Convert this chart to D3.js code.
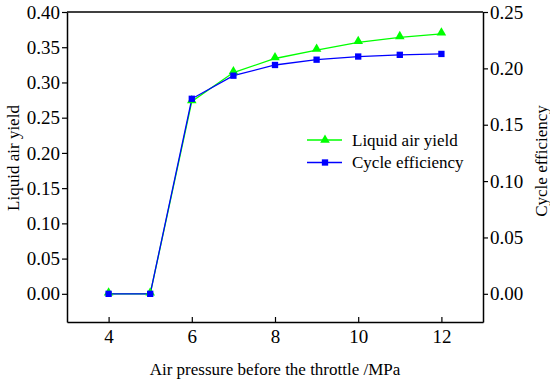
<!DOCTYPE html>
<html>
<head>
<meta charset="utf-8">
<script src="https://cdn.jsdelivr.net/npm/d3@7"></script>
<style>
  body { margin: 0; background: #fff; }
  svg text { font-family: "Liberation Serif", "Times New Roman", serif; fill: #000; }
</style>
</head>
<body>
<div id="chart"></div>
<script>
var pressure = [4, 5, 6, 7, 8, 9, 10, 11, 12];
var liquidYield = [0, 0, 0.273, 0.314, 0.334, 0.346, 0.357, 0.364, 0.369];
var cycleEff = [0, 0, 0.173, 0.1935, 0.203, 0.2077, 0.2105, 0.212, 0.2128];
var xTicks = [4, 6, 8, 10, 12];
var leftTicks = [0, 0.05, 0.10, 0.15, 0.20, 0.25, 0.30, 0.35, 0.40];
var rightTicks = [0, 0.05, 0.10, 0.15, 0.20, 0.25];

var margin = {top: 12, right: 67, bottom: 59, left: 67},
    width = 550 - margin.left - margin.right,
    height = 381 - margin.top - margin.bottom;

var svg = d3.select("#chart")
    .append("svg")
    .attr("width", 550)
    .attr("height", 381)
    .append("g")
    .attr("transform", "translate(" + margin.left + "," + margin.top + ")");

var x = d3.scaleLinear().domain([3, 13]).range([0, width]);
var yL = d3.scaleLinear().domain([-0.04, 0.40]).range([height, 0]);
var yR = d3.scaleLinear().domain([-0.025, 0.25]).range([height, 0]);

// frame top line
svg.append("line")
    .attr("x1", 0).attr("x2", width).attr("y1", 0).attr("y2", 0)
    .attr("stroke", "#000").attr("stroke-width", 1.5);

var xAxis = svg.append("g")
    .attr("transform", "translate(0," + height + ")")
    .call(d3.axisBottom(x).tickValues(xTicks).tickSizeInner(-5).tickSizeOuter(0).tickPadding(8));

var leftAxis = svg.append("g")
    .call(d3.axisLeft(yL).tickValues(leftTicks).tickFormat(d3.format(".2f")).tickSizeInner(5).tickSizeOuter(0).tickPadding(2));

var rightAxis = svg.append("g")
    .attr("transform", "translate(" + width + ",0)")
    .call(d3.axisRight(yR).tickValues(rightTicks).tickFormat(d3.format(".2f")).tickSizeInner(5).tickSizeOuter(0).tickPadding(2));

[xAxis, leftAxis, rightAxis].forEach(function (g) {
    g.attr("font-size", 19).attr("font-family", "Liberation Serif");
    g.select(".domain").attr("stroke-width", 1.5);
    g.selectAll(".tick line").attr("stroke-width", 1.2);
});

var green = "#00ff00", blue = "#0000ff";

var lineL = d3.line().x(function (d, i) { return x(pressure[i]); }).y(function (d) { return yL(d); });
var lineR = d3.line().x(function (d, i) { return x(pressure[i]); }).y(function (d) { return yR(d); });

svg.append("path").datum(liquidYield)
    .attr("fill", "none").attr("stroke", green).attr("stroke-width", 1.3).attr("d", lineL);
svg.append("path").datum(cycleEff)
    .attr("fill", "none").attr("stroke", blue).attr("stroke-width", 1.3).attr("d", lineR);

var tri = d3.symbol().type(d3.symbolTriangle).size(40);
var sq = d3.symbol().type(d3.symbolSquare).size(40);

svg.selectAll(".triMark").data(liquidYield).enter().append("path")
    .attr("d", tri)
    .attr("fill", green)
    .attr("transform", function (d, i) { return "translate(" + x(pressure[i]) + "," + (yL(d) - 1) + ")"; });

svg.selectAll(".sqMark").data(cycleEff).enter().append("path")
    .attr("d", sq)
    .attr("fill", blue)
    .attr("transform", function (d, i) { return "translate(" + x(pressure[i]) + "," + yR(d) + ")"; });

// legend
var legend = [
    {name: "Liquid air yield", color: green, sym: tri},
    {name: "Cycle efficiency", color: blue, sym: sq}
];
var lg = svg.append("g").attr("transform", "translate(" + (307 - margin.left) + "," + (140 - margin.top) + ")");
legend.forEach(function (d, i) {
    var row = lg.append("g").attr("transform", "translate(0," + (i * 22.5) + ")");
    row.append("line").attr("x1", 0).attr("x2", 35).attr("stroke", d.color).attr("stroke-width", 1.3);
    row.append("path").attr("d", d.sym).attr("fill", d.color).attr("transform", "translate(18,0)");
    row.append("text").attr("x", 45).attr("dy", "0.35em").style("font-size", "17px").text(d.name);
});

// axis titles
svg.append("text")
    .attr("x", width / 2).attr("y", height + 53)
    .attr("text-anchor", "middle").style("font-size", "17px")
    .text("Air pressure before the throttle /MPa");

svg.append("text")
    .attr("transform", "translate(" + (13 - margin.left) + "," + (158 - margin.top) + ") rotate(-90)")
    .attr("text-anchor", "middle").attr("dy", "0.35em").style("font-size", "17px")
    .text("Liquid air yield");

svg.append("text")
    .attr("transform", "translate(" + (541 - margin.left) + "," + (161 - margin.top) + ") rotate(-90)")
    .attr("text-anchor", "middle").attr("dy", "0.35em").style("font-size", "17px")
    .text("Cycle efficiency");
</script>
</body>
</html>
